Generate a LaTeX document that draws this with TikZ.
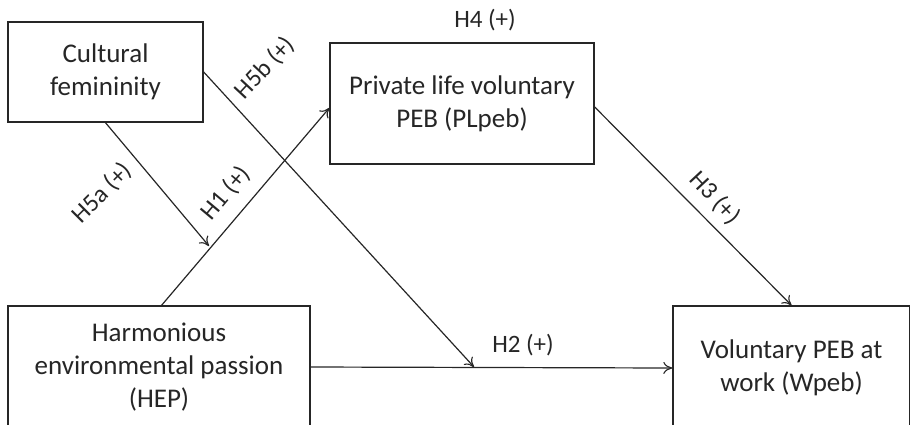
\documentclass[tikz,border=0pt]{standalone}
\usepackage{fontspec}
\setmainfont{Carlito}
\usetikzlibrary{arrows.meta}
\begin{document}
\begin{tikzpicture}[x=1pt,y=-1pt,
  box/.style={draw=black!85, line width=1.4pt, rectangle, align=center, inner sep=0pt,
    font=\fontsize{27}{33}\selectfont, text=black!85},
  conn/.style={draw=black!85, line width=1.2pt, -{To[length=9pt,width=12pt,line width=1.1pt]}},
  plainconn/.style={draw=black!85, line width=1.2pt},
  hlab/.style={font=\fontsize{25}{30}\selectfont, text=black!85, inner sep=0pt}]
\useasboundingbox (0,0) rectangle (910,424);
\clip (0,0) rectangle (910,424);
\node[box, minimum width=195pt, minimum height=100pt] (cf) at (105.5,72) {Cultural\\femininity};
\node[box, minimum width=264pt, minimum height=121pt] (pl) at (462,103.5) {Private life voluntary\\PEB (PLpeb)};
\node[box, minimum width=302pt, minimum height=122pt] (hep) at (159,367) {Harmonious\\environmental passion\\(HEP)};
\node[box, minimum width=237pt, minimum height=124pt] (wp) at (791.5,368) {Voluntary PEB at\\work (Wpeb)};
\coordinate (h1start) at (161,306);
\coordinate (h5aend) at (209,246);
\coordinate (h5bend) at (474,367);
\draw[conn] (h1start) -- ([yshift=-4.5pt]pl.west);
\draw[conn] (cf.south) -- (h5aend);
\draw[conn] (cf.east) -- (h5bend);
\draw[conn] (hep.east) -- (wp.west);
\draw[conn] ([yshift=-3.5pt]pl.east) -- (wp.north);
\node[hlab] (l4) at (485,20) {H4 (+)};
\node[hlab] (l2) at (523,345) {H2 (+)};
\node[hlab, rotate=47] (l5b) at (265,68) {H5b (+)};
\node[hlab, rotate=45] (l5a) at (102,193) {H5a (+)};
\node[hlab, rotate=50] (l1) at (226,193) {H1 (+)};
\node[hlab, rotate=-47] (l3) at (715,198) {H3 (+)};
\end{tikzpicture}
\end{document}
